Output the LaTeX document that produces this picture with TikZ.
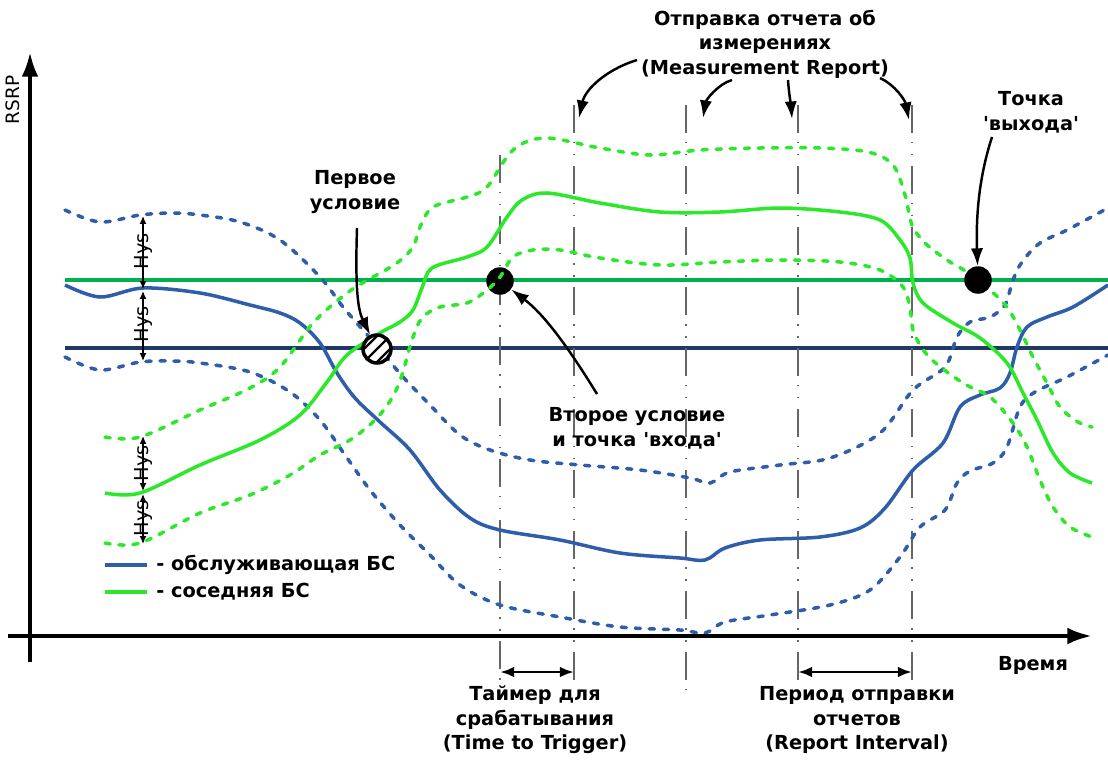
\documentclass[tikz,border=0pt]{standalone}
\usepackage{fontspec}
\setmainfont{DejaVu Sans}
\usetikzlibrary{arrows.meta}
\definecolor{srv}{HTML}{2E5EAA}
\definecolor{nbr}{HTML}{2BE82B}
\definecolor{thrg}{HTML}{00B050}
\definecolor{thrb}{HTML}{1F3864}
\definecolor{vgray}{HTML}{666666}
\begin{document}
\begin{tikzpicture}[x=0.02cm,y=-0.02cm,
  lbl/.style={font=\bfseries\fontsize{11}{14}\selectfont, align=center, inner sep=0},
  small/.style={font=\fontsize{11}{12}\selectfont, inner sep=0},
  srvline/.style={srv, line width=2pt},
  srvdash/.style={srv, line width=2pt, dash pattern=on 3pt off 5pt, line cap=round},
  nbrline/.style={nbr, line width=2pt},
  nbrdash/.style={nbr, line width=2pt, dash pattern=on 3pt off 5pt, line cap=round},
  thr/.style={line width=2.3pt},
  vline/.style={vgray, line width=1.2pt, dash pattern=on 16pt off 5pt on 0.8pt off 6pt on 0.8pt off 6pt},
  ptr/.style={black, line width=1.4pt, -{Latex[length=10pt,width=7pt]}},
  hys/.style={black, line width=0.8pt, {Latex[length=4.5pt,width=4pt]}-{Latex[length=4.5pt,width=4pt]}},
  span/.style={black, line width=1.5pt, {Latex[length=8pt,width=6pt]}-{Latex[length=8pt,width=6pt]}},
  axis/.style={black, line width=2.3pt, -{Latex[length=14pt,width=9.5pt]}},
  dotnode/.style={circle, fill=black, minimum size=0.55cm, inner sep=0},
  hatchdot/.style={circle, draw=black, line width=2pt, fill=white, minimum size=0.56cm, inner sep=0,
    path picture={
      \foreach \d in {-0.13,0,0.13}{
        \draw[black, line width=1.3pt, shift={(path picture bounding box.center)}]
          (-0.4cm+\d cm,-0.4cm-\d cm) -- (0.4cm+\d cm,0.4cm-\d cm);
      }
    }}
]
\useasboundingbox (0,0) rectangle (1108,761);

% thresholds
\coordinate (tg1) at (65,280); \coordinate (tg2) at (1108,280);
\coordinate (tb1) at (65,348); \coordinate (tb2) at (1108,348);
\draw[thr, thrg] (tg1) -- (tg2);
\draw[thr, thrb] (tb1) -- (tb2);

% vertical dash-dot lines
\coordinate (v1t) at (500,155); \coordinate (v1b) at (500,688);
\coordinate (v2t) at (574,105); \coordinate (v2b) at (574,688);
\coordinate (v3t) at (686,105); \coordinate (v3b) at (686,690);
\coordinate (v4t) at (798,105); \coordinate (v4b) at (798,688);
\coordinate (v5t) at (912,105); \coordinate (v5b) at (912,688);
\draw[vline] (v1t) -- (v1b);
\draw[vline] (v2t) -- (v2b);
\draw[vline] (v3t) -- (v3b);
\draw[vline] (v4t) -- (v4b);
\draw[vline] (v5t) -- (v5b);

% entry dot (below curves)
\node[dotnode] (d1) at (500,281) {};

% serving BS
\draw[srvline] plot[smooth,tension=0.55] coordinates {(65,285) (100,297) (143,288) (200,293) (250,305) (280,313) (300,323) (320,343) (337,373) (355,398) (380,422) (410,450) (440,490) (470,518) (500,530) (560,540) (620,553) (680,558) (705,560) (725,548) (760,540) (820,537) (860,528) (885,508) (913,470) (943,443) (960,407) (980,395) (1000,388) (1010,373) (1017,347) (1027,327) (1047,317) (1073,307) (1108,285)};
\draw[srvdash] plot[smooth,tension=0.55] coordinates {(65,210) (100,222) (140,215) (173,213) (200,215) (240,222) (280,240) (320,277) (343,307) (363,330) (383,353) (403,377) (430,405) (460,435) (490,450) (530,460) (580,465) (640,470) (690,478) (710,483) (730,472) (780,465) (830,458) (880,433) (913,390) (945,367) (957,337) (970,322) (990,317) (1005,305) (1013,280) (1022,262) (1040,243) (1067,230) (1108,208)};
\draw[srvdash] plot[smooth,tension=0.55] coordinates {(65,357) (100,370) (140,362) (173,361) (200,363) (250,372) (290,392) (320,420) (345,455) (370,490) (400,525) (430,555) (460,585) (500,605) (560,617) (620,627) (680,630) (705,633) (725,622) (770,615) (830,605) (870,590) (900,557) (920,527) (945,510) (957,483) (970,471) (993,463) (1007,447) (1020,407) (1035,392) (1067,377) (1108,355)};

% neighbour BS
\draw[nbrline] plot[smooth,tension=0.55] coordinates {(105,493) (140,493) (200,465) (260,440) (300,415) (327,382) (347,355) (380,333) (400,322) (413,310) (422,288) (432,268) (467,257) (487,247) (507,217) (522,200) (547,193) (600,203) (660,212) (720,212) (780,208) (840,212) (880,220) (900,240) (910,258) (913,283) (923,303) (953,323) (980,338) (1007,363) (1023,393) (1037,420) (1053,453) (1070,473) (1092,483)};
\draw[nbrdash] plot[smooth,tension=0.55] coordinates {(105,437) (140,437) (200,410) (250,388) (280,367) (313,323) (347,293) (373,277) (397,263) (413,247) (420,227) (433,207) (467,197) (487,187) (513,150) (545,138) (600,148) (650,155) (700,150) (760,148) (820,148) (868,152) (893,165) (905,195) (912,225) (925,243) (947,260) (967,272) (990,290) (1007,307) (1020,330) (1033,357) (1047,383) (1060,407) (1078,422) (1092,427)};
\draw[nbrdash] plot[smooth,tension=0.55] coordinates {(105,543) (140,543) (200,513) (250,495) (290,475) (320,455) (350,440) (375,420) (392,398) (402,375) (412,340) (422,318) (440,307) (467,303) (487,290) (500,277) (513,257) (533,250) (560,250) (600,258) (660,265) (720,262) (780,260) (840,262) (880,270) (903,287) (910,308) (914,333) (930,358) (963,383) (990,397) (1013,423) (1027,447) (1040,480) (1053,507) (1070,527) (1092,537)};

% circles on top
\node[hatchdot] (c1) at (377,349) {};
\node[dotnode] (d2) at (978,280) {};

% axes
\coordinate (ya) at (30,662); \coordinate (yb) at (30,52);
\coordinate (xa) at (8,636); \coordinate (xb) at (1092,636);
\draw[axis] (ya) -- (yb);
\draw[axis] (xa) -- (xb);
\node[small, font=\fontsize{10.5}{12}\selectfont, rotate=90] (rsrp) at (13,100) {RSRP};
\node[lbl] (time) at (1033,665) {Время};

% Hys markers
\coordinate (h1) at (143,216); \coordinate (h2) at (143,289);
\coordinate (h3) at (143,291); \coordinate (h4) at (143,361);
\coordinate (h5) at (143,436); \coordinate (h6) at (143,491);
\coordinate (h7) at (143,494); \coordinate (h8) at (143,544);
\draw[hys] (h1) -- (h2);
\draw[hys] (h3) -- (h4);
\draw[hys] (h5) -- (h6);
\draw[hys] (h7) -- (h8);
\node[small, rotate=90] (hy1) at (143,251) {Hys};
\node[small, rotate=90] (hy2) at (143,324) {Hys};
\node[small, rotate=90] (hy3) at (143,463) {Hys};
\node[small, rotate=90] (hy4) at (143,518) {Hys};

% legend
\coordinate (l1a) at (105,565); \coordinate (l1b) at (147,565);
\coordinate (l2a) at (105,592); \coordinate (l2b) at (147,592);
\draw[srvline, line width=2.4pt] (l1a) -- (l1b);
\draw[nbrline, line width=2.4pt] (l2a) -- (l2b);
\node[lbl, anchor=west] (leg1) at (156,565) {- обслуживающая БС};
\node[lbl, anchor=west] (leg2) at (156,592) {- соседняя БС};

% labels
\node[lbl] (first) at (355,192) {Первое\\условие};
\node[lbl] (second) at (637,428) {Второе условие\\и точка {\textquotesingle}входа{\textquotesingle}};
\node[lbl] (exit) at (1031,112) {Точка\\{\textquotesingle}выхода{\textquotesingle}};
\node[lbl] (mr) at (765,44) {Отправка отчета об\\измерениях\\(Measurement Report)};
\node[lbl] (ttt) at (535,720) {Таймер для\\срабатывания\\(Time to Trigger)};
\node[lbl] (ri) at (857,720) {Период отправки\\отчетов\\(Report Interval)};

% pointer arrows
\coordinate (f0) at (357,228);
\draw[ptr] (f0) .. controls (355,290) and (358,310) .. (c1);
\coordinate (s0) at (597,394);
\draw[ptr] (s0) .. controls (570,350) and (545,315) .. (d1);
\coordinate (e0) at (992,137);
\draw[ptr] (e0) .. controls (978,180) and (976,220) .. (d2);
\coordinate (m0a) at (637,60); \coordinate (m1) at (579,118);
\coordinate (m0b) at (732,80); \coordinate (m2) at (703,118);
\coordinate (m0c) at (788,80); \coordinate (m3) at (792,119);
\coordinate (m0d) at (880,78); \coordinate (m4) at (909,120);
\draw[ptr] (m0a) .. controls (605,70) and (585,90) .. (m1);
\draw[ptr] (m0b) .. controls (718,84) and (706,100) .. (m2);
\draw[ptr] (m0c) .. controls (789,95) and (791,105) .. (m3);
\draw[ptr] (m0d) .. controls (895,85) and (905,100) .. (m4);

% interval arrows
\coordinate (t1) at (500,672); \coordinate (t2) at (574,672);
\coordinate (r1) at (798,672); \coordinate (r2) at (912,672);
\draw[span] (t1) -- (t2);
\draw[span] (r1) -- (r2);
\end{tikzpicture}
\end{document}
